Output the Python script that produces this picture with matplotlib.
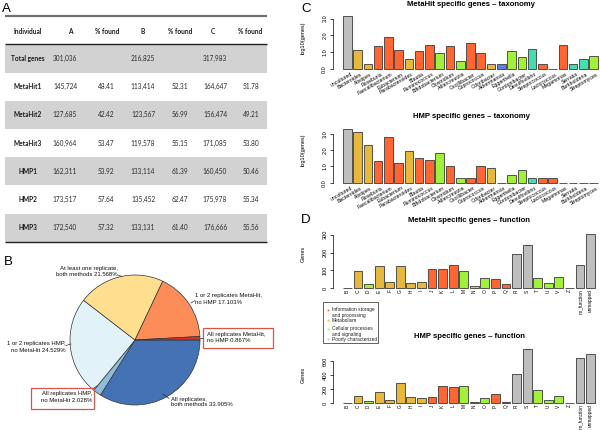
import matplotlib
matplotlib.use('Agg')
import matplotlib.pyplot as plt
from matplotlib.patches import Rectangle
import matplotlib.transforms as mtrans

plt.rcParams['font.family'] = ['Liberation Sans', 'DejaVu Sans']

W, H = 600, 430
fig = plt.figure(figsize=(6, 4.3), dpi=100)

# ---------------- data ----------------
table_cols = ['Individual', 'A', '% found', 'B', '% found', 'C', '% found']
table_rows = ['Total genes', 'MetaHit1', 'MetaHit2', 'MetaHit3', 'HMP1', 'HMP2', 'HMP3']
genes_A = ['301,036', '145,724', '127,685', '160,964', '162,311', '173,517', '172,540']
found_A = ['', '48.41', '42.42', '53.47', '53.92', '57.64', '57.32']
genes_B = ['216,825', '113,414', '123,567', '119,578', '133,114', '135,452', '133,131']
found_B = ['', '52.31', '56.99', '55.15', '61.39', '62.47', '61.40']
genes_C = ['317,983', '164,647', '156,474', '171,085', '160,450', '175,978', '176,666']
found_C = ['', '51.78', '49.21', '53.80', '50.46', '55.34', '55.56']

pie_labels = ['All replicates,\nboth methods 33.905%',
              'All replicates HMP,\nno MetaHit 2.028%',
              '1 or 2 replicates HMP,\nno MetaHit 24.529%',
              'At least one replicate,\nboth methods 21.568%',
              '1 or 2 replicates MetaHit,\nno HMP 17.103%',
              'All replicates MetaHit,\nno HMP 0.867%']
pie_values = [33.905, 2.028, 24.529, 21.568, 17.103, 0.867]
pie_colors = ['#4472b4', '#8fbcdb', '#e1f3f8', '#fedf8f', '#fc8d59', '#d73027']

genera = ['uncultured', 'Bacteroides', 'Alistipes', 'Roseburia', 'Faecalibacterium',
          'Eubacterium', 'Parabacteroides', 'Blautia', 'Ruminococcus', 'Bifidobacterium',
          'Clostridium', 'Adlercreutzia', 'Oscillibacter', 'Coprococcus', 'Odoribacter',
          'Akkermansia', 'Eggerthella', 'Gordonibacter', 'Desulfovibrio', 'Streptococcus',
          'Lactococcus', 'Megamonas', 'Serratia', 'Burkholderia', 'Streptomyces']
genera_group = ['grey', 'gold', 'gold', 'orange', 'orange', 'orange', 'gold', 'orange',
                'orange', 'green', 'orange', 'green', 'orange', 'orange', 'gold', 'blue',
                'green', 'green', 'teal', 'orange', 'orange', 'orange', 'teal', 'teal', 'green']
metahit_tax = [3.17, 1.11, 0.30, 1.35, 1.88, 1.11, 0.57, 1.07, 1.43, 0.93, 1.35, 0.46, 1.52,
               0.93, 0.30, 0.30, 1.05, 0.69, 1.17, 0.30, 0.00, 1.41, 0.30, 0.57, 0.77]
hmp_tax = [3.27, 3.12, 2.33, 1.31, 2.78, 1.20, 1.92, 1.51, 1.39, 1.80, 1.02, 0.30, 0.30,
           1.02, 0.90, 0.00, 0.45, 0.76, 0.30, 0.30, 0.30, 0.00, 0.00, 0.00, 0.00]

cog = ['B', 'C', 'D', 'E', 'F', 'G', 'H', 'I', 'J', 'K', 'L', 'M', 'N', 'O', 'P', 'Q',
       'R', 'S', 'T', 'U', 'V', 'Z', 'no_function', 'unmapped']
cog_group = ['orange', 'gold', 'green', 'gold', 'gold', 'gold', 'gold', 'gold', 'orange',
             'orange', 'orange', 'green', 'green', 'green', 'orange', 'orange', 'grey',
             'grey', 'green', 'green', 'green', 'grey', 'grey', 'grey']
metahit_fun = [2, 97, 22, 123, 37, 125, 28, 35, 106, 110, 130, 95, 15, 58, 50, 22,
               192, 242, 58, 28, 61, 4, 128, 303]
hmp_fun = [0, 104, 29, 166, 43, 294, 86, 71, 86, 243, 229, 243, 14, 71, 129, 24,
           419, 771, 186, 43, 104, 0, 643, 700]

legend_labels = ['Information storage\nand processing', 'Metabolism',
                 'Cellular processes\nand signaling', 'Poorly characterized']
legend_groups = ['orange', 'gold', 'green', 'grey']

palette = {'grey': '#bebebe', 'gold': '#e6b83c', 'orange': '#ff6633',
           'green': '#a3f03c', 'teal': '#45dcb0', 'blue': '#5f7ee8'}

# ---------------- overlay (pixel coordinates) ----------------
ov = fig.add_axes([0, 0, 1, 1], zorder=5)
ov.set_xlim(0, W)
ov.set_ylim(H, 0)
ov.axis('off')

# panel letters
for letter, (lx, ly) in zip('ABCD', [(2, 9), (4, 262), (301, 9), (301, 220)]):
    ov.text(lx, ly, letter, fontsize=9.5, ha='left', va='center')

# ---------------- Panel A: table ----------------
tfont = ['Lato', 'DejaVu Sans']
ov.plot([5, 267], [16, 16], color='#707070', lw=1.6, solid_capstyle='butt')
ov.plot([5, 267], [44, 44], color='#222222', lw=1.0, solid_capstyle='butt')
ov.plot([5, 267], [241.7, 241.7], color='#222222', lw=1.0, solid_capstyle='butt')
head_x = [28, 70, 107, 143, 180, 213, 250]
val_x = [28, 65, 106, 143, 180, 215, 251]
for hx, hc in zip(head_x, table_cols):
    ov.text(hx, 31.5, hc, ha='center', va='center', fontsize=4.7,
            fontweight='bold', family=tfont, color='#1a1a1a')
row_top, row_h = 44.5, 28.17
columns = [genes_A, found_A, genes_B, found_B, genes_C, found_C]
for i, rname in enumerate(table_rows):
    y0 = row_top + i * row_h
    if i % 2 == 0:
        ov.add_patch(Rectangle((5, y0), 262, row_h, facecolor='#d2d2d2',
                               edgecolor='none', zorder=0))
    yc = y0 + row_h / 2
    ov.text(val_x[0], yc, rname, ha='center', va='center', fontsize=4.7,
            fontweight='bold', family=tfont, color='#1a1a1a')
    for cx, col in zip(val_x[1:], columns):
        ov.text(cx, yc, col[i], ha='center', va='center', fontsize=4.7,
                family=tfont, color='#2a2a2a')

# ---------------- Panel B: pie ----------------
cx, cy, r = 135, 340, 65
lim = 1.05
half = r * lim
pax = fig.add_axes([(cx - half) / W, 1 - (cy + half) / H, 2 * half / W, 2 * half / H])
pax.pie(pie_values, colors=pie_colors, startangle=0, counterclock=False, radius=1,
        wedgeprops=dict(edgecolor='#333333', linewidth=0.5))
pax.set_xlim(-lim, lim)
pax.set_ylim(-lim, lim)
pax.set_aspect('equal')
pax.axis('off')

pfs = 4.3
# (x, y of block center, ha)
label_pos = [(171, 402, 'left'), (92, 397, 'right'), (66, 347, 'right'),
             (118, 271.5, 'right'), (195, 299, 'left'), (207, 337.5, 'left')]
for (lx, ly, ha), txt in zip(label_pos, pie_labels):
    ov.text(lx, ly, txt, ha=ha, va='center', fontsize=pfs, linespacing=1.25,
            multialignment=ha, color='#111111')
# boxes
ov.add_patch(Rectangle((203, 328), 70, 20, facecolor='none', edgecolor='#d9534f', lw=0.9))
ov.add_patch(Rectangle((31, 388), 63, 21, facecolor='none', edgecolor='#d9534f', lw=0.9))
# leader lines
for (x0, y0, x1, y1) in [(118, 275, 122, 276.5), (191, 303, 195, 300.5),
                         (66, 345.5, 71, 344), (163, 394, 169, 398.5),
                         (94, 388, 97, 386), (200, 338, 203, 338)]:
    ov.plot([x0, x1], [y0, y1], color='#333333', lw=0.5)


# ---------------- bar panels ----------------
def bar_panel(vals, labels, groups, bar_left, bar_right, zero_px, px_per_val, ytop,
              yticks, yticklabels, rot, lab_fs, lab_dx):
    n = len(vals)
    span = 1.2 * n - 0.2
    u = (bar_right - bar_left) / span
    ext = 0.04 * span
    left = bar_left - ext * u
    right = bar_right + ext * u
    top = zero_px - ytop * px_per_val
    ax = fig.add_axes([left / W, 1 - zero_px / H, (right - left) / W, (zero_px - top) / H])
    ax.set_xlim(0.2 - ext, 1.2 * n + ext)
    ax.set_ylim(0, ytop)
    centers = [0.7 + 1.2 * i for i in range(n)]
    ax.bar(centers, vals, width=1.0, color=[palette[g] for g in groups],
           edgecolor='#3a3a3a', linewidth=0.6, clip_on=False)
    for s in ['top', 'right', 'bottom']:
        ax.spines[s].set_visible(False)
    ax.spines['left'].set_bounds(yticks[0], yticks[-1])
    ax.spines['left'].set_linewidth(0.5)
    ax.set_yticks(yticks)
    ax.set_yticklabels(yticklabels, rotation=90, va='center')
    ax.tick_params(axis='y', length=2.5, width=0.5, pad=1.5, labelsize=4)
    ax.set_xticks(centers)
    if rot == 90:
        ax.set_xticklabels(labels, rotation=90, ha='center', va='top', fontsize=lab_fs)
        ax.tick_params(axis='x', length=0, pad=0.8)
    else:
        ax.set_xticklabels(labels, rotation=rot, ha='right', va='top',
                           rotation_mode='anchor', fontsize=lab_fs)
        ax.tick_params(axis='x', length=0, pad=2.0)
        off = mtrans.ScaledTranslation(lab_dx / 100, 0, fig.dpi_scale_trans)
        for t in ax.get_xticklabels():
            t.set_transform(t.get_transform() + off)
    ax.patch.set_visible(False)
    return ax


tax_ticks = [0, 1, 2, 3]
tax_ticklabels = ['0.0', '1.0', '2.0', '3.0']
bar_panel(metahit_tax, genera, genera_group, 343, 598, 69, 16.8, 3.3,
          tax_ticks, tax_ticklabels, 30, 3.7, 3)
bar_panel(hmp_tax, genera, genera_group, 343, 598, 182.7, 16.3, 3.35,
          tax_ticks, tax_ticklabels, 30, 3.7, 3)
bar_panel(metahit_fun, cog, cog_group, 343, 595, 288.3, 0.179, 320,
          [0, 100, 200, 300], ['0', '100', '200', '300'], 90, 3.4, 0)
bar_panel(hmp_fun, cog, cog_group, 343, 595, 403.3, 0.07, 800,
          [0, 200, 400, 600], ['0', '200', '400', '600'], 90, 3.4, 0)

# titles
tfs = 5.6
ov.text(471, 4.5, 'MetaHit specific genes \u2013 taxonomy', ha='center', va='center',
        fontsize=tfs, fontweight='bold')
ov.text(471, 116, 'HMP specific genes \u2013 taxonomy', ha='center', va='center',
        fontsize=tfs, fontweight='bold')
ov.text(469, 221, 'MetaHit specific genes \u2013 function', ha='center', va='center',
        fontsize=tfs, fontweight='bold')
ov.text(469, 336, 'HMP specific genes \u2013 function', ha='center', va='center',
        fontsize=tfs, fontweight='bold')

# y labels
for (yl, yc) in [('log10(genes)', 38), ('log10(genes)', 150), ('Genes', 254), ('Genes', 375)]:
    ov.text(303, yc, yl, rotation=90, ha='center', va='center', fontsize=4)

# legend for function panels
ov.add_patch(Rectangle((322.7, 301.7), 55.6, 41.6, facecolor='white',
                       edgecolor='#222222', lw=0.5))
leg_text_y = [306.7, 320, 326, 339.3]
leg_mark_y = [310, 320, 329.3, 339.3]
for ty, my, lab, g in zip(leg_text_y, leg_mark_y, legend_labels, legend_groups):
    ov.plot([327.5], [my], marker='s', markersize=1.3, color=palette[g], mec='none')
    ov.text(332, ty, lab, ha='left', va='top' if '\n' in lab else 'center',
            fontsize=3.5, linespacing=1.25, color='#222222')

fig.savefig('out.png', dpi=100)
